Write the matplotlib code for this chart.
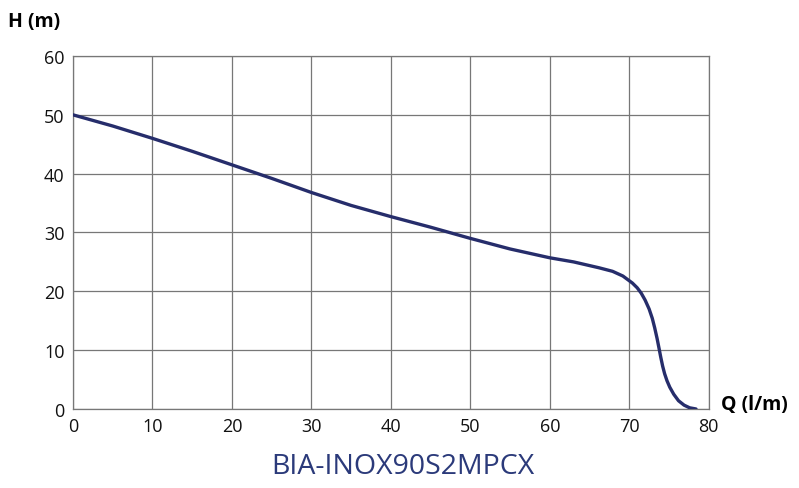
import matplotlib.pyplot as plt

# Pump curve
flow = [0, 5, 10, 15, 20, 25, 30, 35, 40, 45, 50, 55, 60, 63, 66.2, 67.9, 69.2,
        70.4, 71.0, 71.5, 72.0, 72.5, 72.9, 73.2, 73.5, 73.75, 73.95, 74.2,
        74.45, 74.75, 75.1, 75.6, 76.2, 76.9, 77.6, 78.4]
head = [50, 48.1, 46.0, 43.8, 41.5, 39.2, 36.8, 34.6, 32.7, 30.9, 29.0, 27.2,
        25.7, 25.0, 24.0, 23.4, 22.6, 21.4, 20.6, 19.7, 18.5, 17.0, 15.4, 13.8,
        12.0, 10.3, 8.9, 7.3, 6.0, 4.8, 3.7, 2.5, 1.4, 0.65, 0.2, 0]

xticks = [0, 10, 20, 30, 40, 50, 60, 70, 80]
yticks = [0, 10, 20, 30, 40, 50, 60]

plt.rcParams['font.family'] = ['Open Sans', 'DejaVu Sans']

fig = plt.figure(figsize=(7.99, 4.89), dpi=100)
ax = fig.add_axes([0.0914, 0.1616, 0.7956, 0.7218])

ax.plot(flow, head, color='#262d6b', lw=2.4, solid_capstyle='round',
        solid_joinstyle='round', zorder=3)

ax.set_xlim(0, 80)
ax.set_ylim(0, 60)
ax.set_xticks(xticks)
ax.set_yticks(yticks)
ax.tick_params(length=0, labelsize=13, pad=6, colors='#111111')
ax.grid(True, color='#777777', lw=0.9)
for s in ax.spines.values():
    s.set_color('#777777')
    s.set_linewidth(0.9)

fig.text(0.010, 0.955, 'H (m)', fontsize=14, fontweight='bold', ha='left', va='center')
fig.text(0.903, 0.172, 'Q (l/m)', fontsize=14, fontweight='bold', ha='left', va='center')
fig.text(0.504, 0.045, 'BIA-INOX90S2MPCX', fontsize=20.5, color='#2b3a7a', ha='center', va='center')

fig.savefig('out.png', dpi=100)
